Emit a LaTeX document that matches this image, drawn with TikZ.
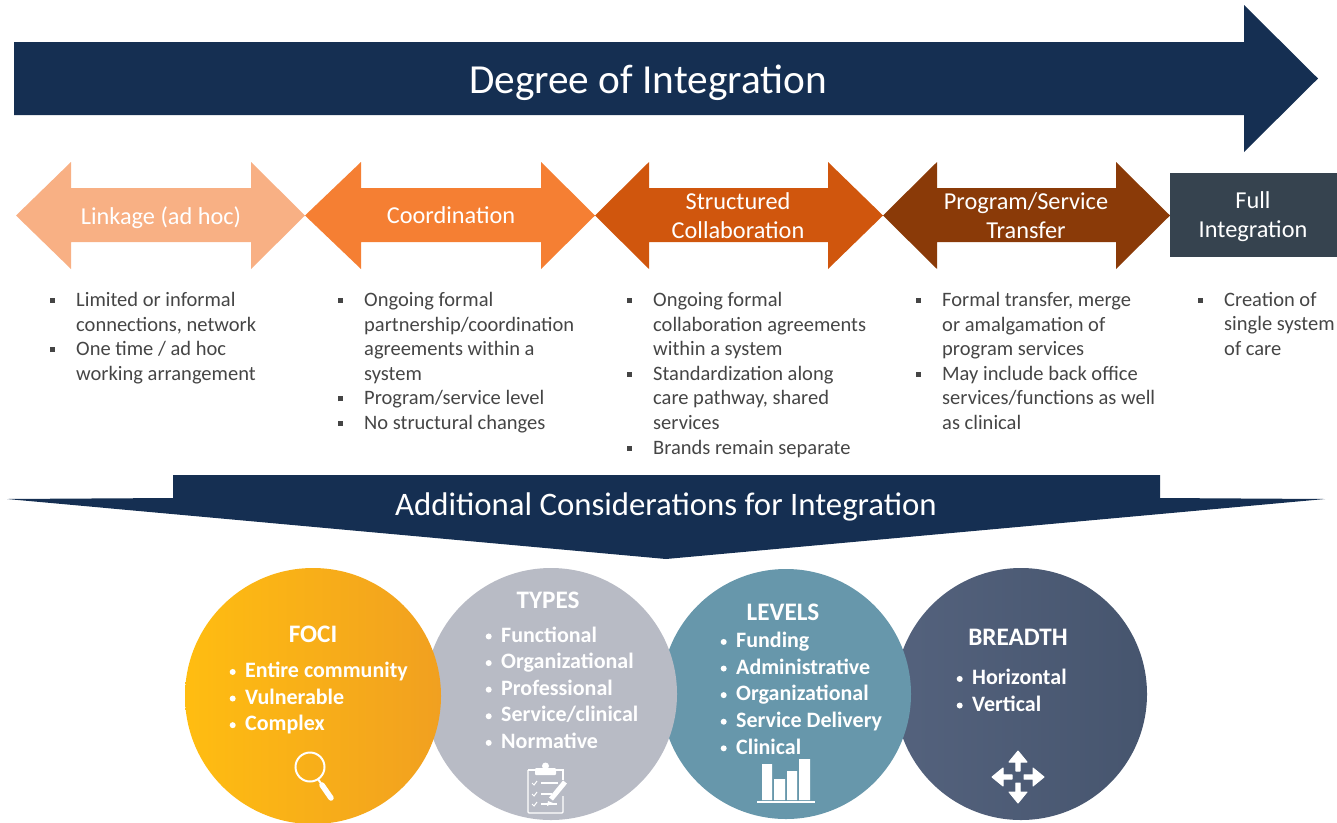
\documentclass[tikz,border=0pt]{standalone}
\usepackage{fontspec}
\setmainfont{Carlito}
\usetikzlibrary{calc}
\definecolor{navy}{HTML}{152F52}
\definecolor{slate}{HTML}{36434F}
\definecolor{bodytxt}{HTML}{454545}
\definecolor{aone}{HTML}{F8B084}
\definecolor{atwo}{HTML}{F57F33}
\definecolor{athree}{HTML}{D0560D}
\definecolor{afour}{HTML}{8A3A08}
\newcommand{\bu}{\leavevmode\llap{\makebox[26pt][l]{\raisebox{3.5pt}{\rule{5pt}{5pt}}}}}
\newcommand{\cb}{\leavevmode\llap{\makebox[15.5pt][l]{\tikz[baseline]\fill (0,0.26em) circle (3pt);}}}
\newcommand{\dbl}[6]{% name,color,x0,x1,x2,x3
  \fill[#2] (#3,215.5) -- (#4,162) -- (#4,188) -- (#5,188) -- (#5,162) -- (#6,215.5) -- (#5,269) -- (#5,242) -- (#4,242) -- (#4,269) -- cycle;
}
\tikzset{
  arrowlabel/.style={text=white,font=\fontsize{24.3}{29}\selectfont,align=center,inner sep=0pt},
  bodylist/.style={anchor=north west,text=bodytxt,font=\fontsize{20.5}{24.6}\selectfont,align=left,inner sep=0pt},
  disc/.style={circle,minimum size=#1,inner sep=0pt,outer sep=0pt},
  cirhead/.style={text=white,font=\fontsize{25.2}{28}\selectfont\bfseries,inner sep=0pt},
  cirlist/.style={anchor=north west,font=\fontsize{22}{26.6}\selectfont\bfseries,align=left,inner sep=0pt},
  icon/.style={white,line width=1.6pt},
}
\begin{document}
\begin{tikzpicture}[x=1pt,y=-1pt]
\useasboundingbox (0,0) rectangle (1337,822);
\clip (0,0) rectangle (1337,822);
% top arrow
\fill[navy] (14,42) -- (1244,42) -- (1244,5) -- (1318,78.5) -- (1244,152) -- (1244,115) -- (14,115) -- cycle;
\node[text=white,font=\fontsize{41.3}{44}\selectfont,inner sep=0pt] (title) at (648,82.5) {Degree of Integration};
% stage arrows
\dbl{a1}{aone}{16}{71}{251}{305}
\dbl{a2}{atwo}{305}{361}{541}{595}
\dbl{a3}{athree}{595}{649}{828}{883}
\dbl{a4}{afour}{883}{937}{1116}{1170}
\node[arrowlabel] (l1) at (161,217.5) {Linkage (ad hoc)};
\node[arrowlabel] (l2) at (451,215.5) {Coordination};
\node[arrowlabel] (l3) at (738,215.5) {Structured\\Collaboration};
\node[arrowlabel] (l4) at (1026,215.5) {Program/Service\\Transfer};
\node[fill=slate,minimum width=167pt,minimum height=84pt,inner sep=0pt,anchor=north west] (full) at (1170,173) {};
\node[arrowlabel] (l5) at (1253,217) {Full\\Integration};
% bullets
\node[bodylist] (c1) at (76,292) {\bu Limited or informal\\connections, network\\\bu One time / ad hoc\\working arrangement};
\node[bodylist] (c2) at (364,292) {\bu Ongoing formal\\partnership/coordination\\agreements within a\\system\\\bu Program/service level\\\bu No structural changes};
\node[bodylist] (c3) at (653,292) {\bu Ongoing formal\\collaboration agreements\\within a system\\\bu Standardization along\\care pathway, shared\\services\\\bu Brands remain separate};
\node[bodylist] (c4) at (942,292) {\bu Formal transfer, merge\\or amalgamation of\\program services\\\bu May include back office\\services/functions as well\\as clinical};
\node[bodylist] (c5) at (1224,292) {\bu Creation of\\single system\\of care};
% banner
\fill[navy] (173,475) -- (1160,475) -- (1160,498) -- (1325,499) -- (666,559) -- (7,499) -- (173,498) -- cycle;
\node[text=white,font=\fontsize{32.8}{36}\selectfont,inner sep=0pt] (banner) at (666,506.5) {Additional Considerations for Integration};
% circles
\node[disc=252pt,left color={rgb,255:red,84;green,98;blue,125},right color={rgb,255:red,70;green,85;blue,110}] (breadth) at (1021,694) {};
\node[disc=250pt,fill={rgb,255:red,103;green,151;blue,171}] (levels) at (786,694) {};
\node[disc=252pt,fill={rgb,255:red,184;green,187;blue,197}] (types) at (551,694) {};
\node[disc=256pt,left color={rgb,255:red,255;green,189;blue,17},middle color={rgb,255:red,252;green,184;blue,22},right color={rgb,255:red,241;green,160;blue,32}] (foci) at (313,696) {};
% circle text
\node[cirhead] (h1) at (313,634) {FOCI};
\node[cirlist,text=white] (t1) at (245,662) {\cb Entire community\\\cb Vulnerable\\\cb Complex};
\node[cirhead,text=white] (h2) at (548,600) {TYPES};
\node[cirlist,text=white] (t2) at (501,626.5) {\cb Functional\\\cb Organizational\\\cb Professional\\\cb Service/clinical\\\cb Normative};
\node[cirhead] (h3) at (783,612) {LEVELS};
\node[cirlist,text=white] (t3) at (736,632) {\cb Funding\\\cb Administrative\\\cb Organizational\\\cb Service Delivery\\\cb Clinical};
\node[cirhead] (h4) at (1018,637) {BREADTH};
\node[cirlist,text=white] (t4) at (972,669) {\cb Horizontal\\\cb Vertical};
% magnifier
\draw[icon,line width=2pt] (310,767) circle (14.5);
\draw[white,line width=2pt] (318,779) -- (322,785);
\draw[white,line width=5.5pt,line cap=round] (322,785) -- (331,798);
% clipboard
\draw[icon,rounded corners=1pt,line width=1.3pt] (528,770) -- (528,813) -- (563,813) -- (563,796);
\draw[icon,line width=1.3pt] (563,780) -- (563,770) -- (556,770);
\draw[icon,line width=1.3pt] (535,770) -- (528,770);
\fill[white,rounded corners=1pt] (535,768) rectangle (556,775);
\fill[white] (545.5,766) circle (3.5);
\draw[white,line width=1pt] (532,783) -- (534,785) -- (537,781) (532,794) -- (534,796) -- (537,792) (532,804) -- (534,806) -- (537,802);
\draw[white,line width=1.1pt] (541,783) -- (558,783) (541,794) -- (552,794) (541,804) -- (557,804);
\draw[white,line width=5pt] (551,799) -- (565,782);
\fill[white] (548,801) -- (553,803) -- (547,806) -- cycle;
% bars
\fill[white] (762,764) rectangle (772,800) (774,779) rectangle (785,800) (787,771) rectangle (797,800) (799,759) rectangle (810,800);
\draw[white,line width=1.4pt] (757,802) -- (815,802);
% move arrows
\begin{scope}[shift={(1018,777)}]
\foreach \a in {0,90,180,270}{
 \begin{scope}[rotate=\a]
 \fill[white,draw=white,line width=1pt,line join=round] (6,-2.2) -- (15,-2.2) -- (15,-9) -- (26,0) -- (15,9) -- (15,2.2) -- (6,2.2) -- cycle;
 \end{scope}
}
\end{scope}
\end{tikzpicture}
\end{document}
